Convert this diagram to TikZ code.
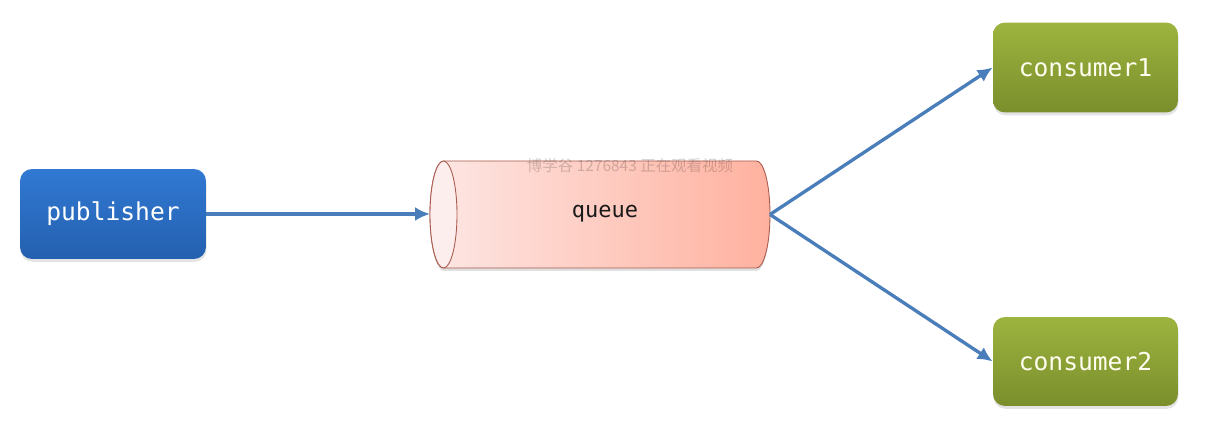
\documentclass[tikz,border=0pt]{standalone}
\usepackage{fontspec}
\setmonofont{DejaVu Sans Mono}
\newfontfamily\cjk{Noto Sans CJK SC}
\usetikzlibrary{arrows.meta,positioning,shadows}

\definecolor{pubtop}{HTML}{3179D3}
\definecolor{pubbot}{HTML}{2460AF}
\definecolor{contop}{HTML}{9DB43F}
\definecolor{conbot}{HTML}{7A8E2B}
\definecolor{qleft}{HTML}{FDE7E4}
\definecolor{qright}{HTML}{FFB19F}
\definecolor{qend}{HTML}{FDEEEE}
\definecolor{qline}{HTML}{A85A4E}
\definecolor{arrblue}{HTML}{4A7EBB}

\tikzset{
  box/.style={rounded corners=0.24cm, minimum width=3.72cm, minimum height=1.8cm,
    font=\ttfamily\fontsize{14}{16}\selectfont, text=white,
    drop shadow={opacity=0.22, shadow xshift=0.3pt, shadow yshift=-1.6pt}},
  pubbox/.style={box, top color=pubtop, bottom color=pubbot},
  conbox/.style={box, minimum width=3.7cm, top color=contop, bottom color=conbot, text=white!94!yellow},
  qtext/.style={font=\ttfamily\fontsize{12.5}{14}\selectfont, text=black!90},
  arr/.style={-{Latex[length=3mm,width=2.8mm]}, arrblue, line width=1.9pt}
}

\begin{document}
\begin{tikzpicture}[x=0.02cm, y=-0.02cm]
\useasboundingbox (0,0) rectangle (1211,432);

\node[pubbox] (pub) at (113,214) {publisher};

% the queue drawn as a lying cylinder
\fill[black, opacity=0.12] (443.5,164) -- (756.5,164)
  arc[start angle=90, end angle=-90, x radius=0.27cm, y radius=1.07cm]
  -- (443.5,271) arc[start angle=-90, end angle=-270, x radius=0.27cm, y radius=1.07cm] -- cycle;
\draw[qline, line width=0.5pt, left color=qleft, right color=qright] (443.5,161) -- (756.5,161)
  arc[start angle=90, end angle=-90, x radius=0.27cm, y radius=1.07cm]
  -- (443.5,268) arc[start angle=-90, end angle=-270, x radius=0.27cm, y radius=1.07cm] -- cycle;
\filldraw[fill=qend, draw=qline, line width=0.5pt] (443.5,214.5) ellipse (0.27cm and 1.07cm);
\coordinate (qin) at (430,214);
\coordinate (qout) at (770,214.5);
\node[qtext] (queue) at (605,214) {queue};

\node[conbox] (con1) at (1085.5,67.5) {consumer1};
\node[conbox, minimum height=1.78cm] (con2) at (1085.5,361.5) {consumer2};

\node[font=\cjk\fontsize{8.8}{10}\selectfont, text=black, opacity=0.18] (mark) at (630,166) {博学谷 1276843 正在观看视频};

\draw[arr] (pub.east) -- (qin);
\draw[arr] (qout) -- (con1.west);
\draw[arr] (qout) -- (con2.west);
\end{tikzpicture}
\end{document}
